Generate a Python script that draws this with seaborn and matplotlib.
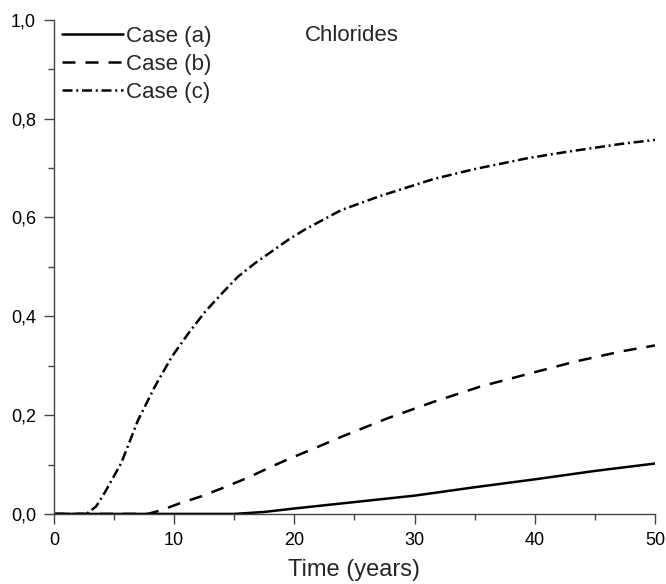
import numpy as np
import pandas as pd
import matplotlib
matplotlib.use("Agg")
import matplotlib.pyplot as plt
import seaborn as sns
from matplotlib.ticker import MultipleLocator

# values
t_a = [0, 15, 17.5, 20, 25, 30, 35, 40, 45, 50]
c_a = [0, 0, 0.004, 0.011, 0.024, 0.037, 0.054, 0.070, 0.087, 0.102]

t_b = [0, 7.8, 9.0, 10.3, 12.3, 14.2, 16.2, 18.1, 20.0, 21.5, 23.9, 27.8, 31.6, 35.5, 39.4, 43.3, 47.2, 50]
c_b = [0, 0, 0.008, 0.020, 0.036, 0.054, 0.074, 0.096, 0.116, 0.131, 0.156, 0.194, 0.227, 0.258, 0.283, 0.308, 0.329, 0.341]

t_c = [0, 2.7, 3.5, 4.2, 5.6, 7.0, 8.4, 9.8, 11.2, 12.6, 14.0, 15.3, 16.7, 18.1, 19.5, 20.9,
       23.9, 27.2, 31.6, 35.0, 39.4, 42.7, 47.2, 50]
c_c = [0, 0, 0.015, 0.042, 0.103, 0.190, 0.258, 0.318, 0.366, 0.410, 0.447, 0.480, 0.507, 0.531, 0.555, 0.576,
       0.615, 0.644, 0.678, 0.698, 0.720, 0.733, 0.749, 0.757]

cases = ["Case (a)", "Case (b)", "Case (c)"]
x_ticks = [0, 10, 20, 30, 40, 50]
y_ticks = [0.0, 0.2, 0.4, 0.6, 0.8, 1.0]
y_ticklabels = ["0,0", "0,2", "0,4", "0,6", "0,8", "1,0"]

df = pd.concat([
    pd.DataFrame({"t": t_a, "c": c_a, "case": cases[0]}),
    pd.DataFrame({"t": t_b, "c": c_b, "case": cases[1]}),
    pd.DataFrame({"t": t_c, "c": c_c, "case": cases[2]}),
])

sns.set_style("ticks")
plt.rcParams["font.family"] = ["Liberation Sans", "DejaVu Sans"]

fig = plt.figure(figsize=(6.66, 5.84), dpi=100)
ax = fig.add_axes([0.081, 0.12, 0.9025, 0.846])

dashes = {cases[0]: "", cases[1]: (5.2, 4), cases[2]: (4, 1.5, 0.8, 1.5)}
sns.lineplot(data=df, x="t", y="c", style="case", dashes=dashes, color="black",
             linewidth=1.8, estimator=None, sort=True, ax=ax)

ax.set_xlim(0, 50)
ax.set_ylim(0, 1)
ax.set_xticks(x_ticks)
ax.set_yticks(y_ticks)
ax.set_yticklabels(y_ticklabels)
ax.xaxis.set_minor_locator(MultipleLocator(5))
ax.yaxis.set_minor_locator(MultipleLocator(0.1))
ax.tick_params(which="major", length=7, width=1, labelsize=13, colors="#444444", labelcolor="black", pad=6)
ax.tick_params(which="minor", length=4, width=1, colors="#444444")
for s in ["left", "bottom"]:
    ax.spines[s].set_color("#444444")
    ax.spines[s].set_linewidth(1)
sns.despine(ax=ax)

ax.set_xlabel("Time (years)", fontsize=17, labelpad=7)
ax.set_ylabel("")

ax.text(0.418, 0.968, "Chlorides", transform=ax.transAxes, fontsize=16, va="center", ha="left")

leg = ax.legend(loc="upper left", bbox_to_anchor=(-0.012, 1.02), frameon=False, fontsize=16,
                handlelength=2.75, handletextpad=0.1, labelspacing=0.32, borderaxespad=0.3)

fig.savefig("out.png", dpi=100)
